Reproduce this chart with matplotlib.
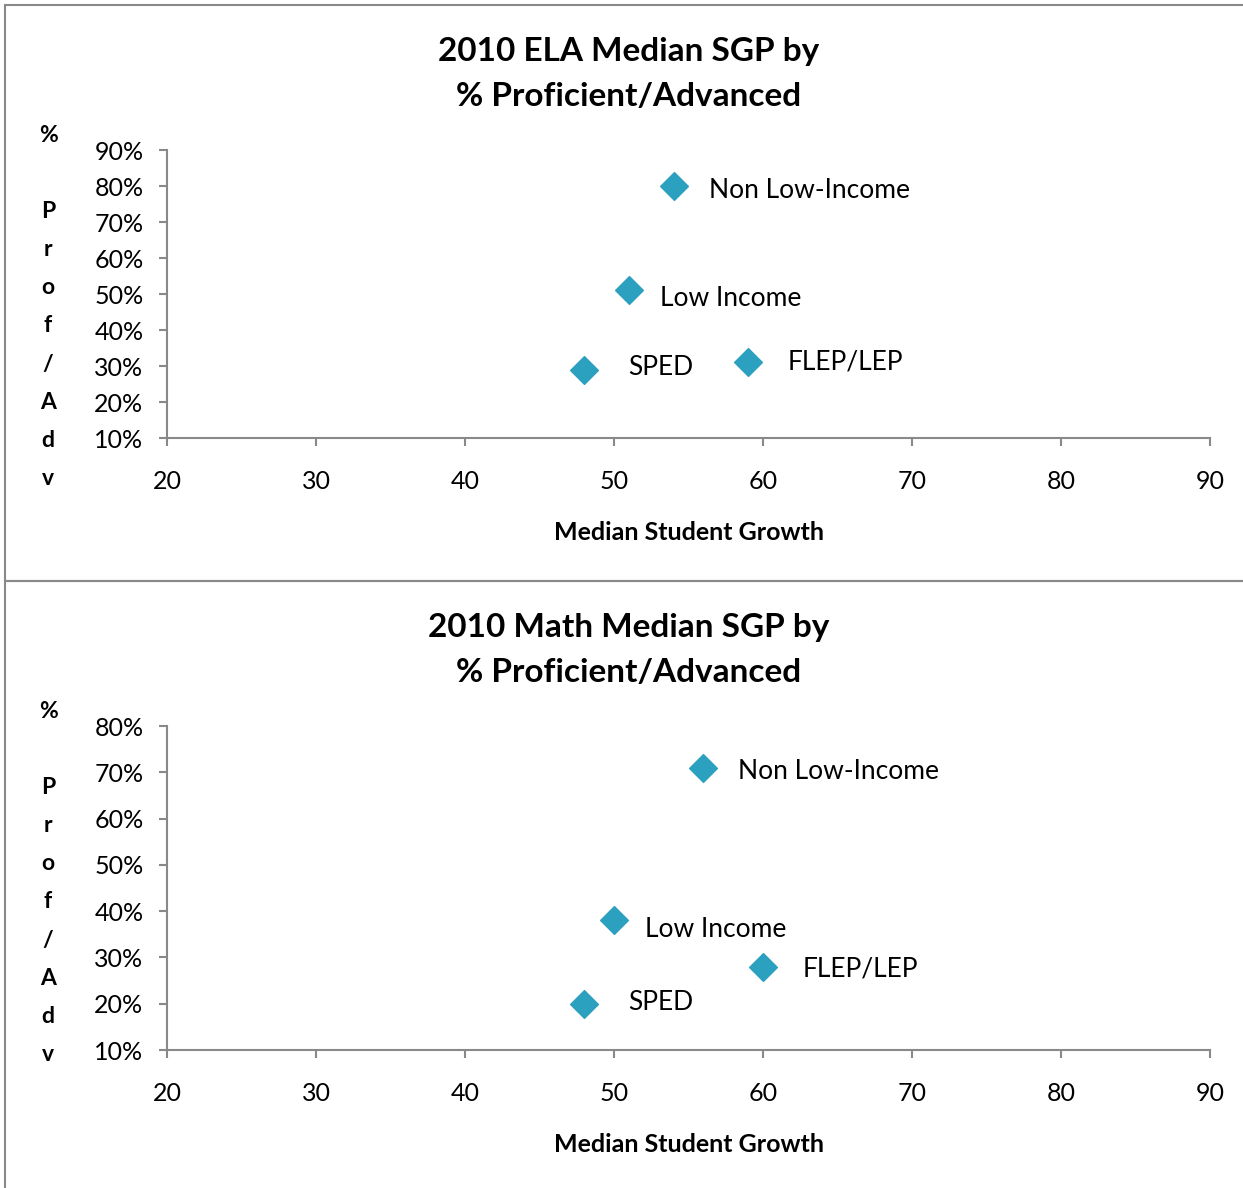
import matplotlib
matplotlib.use('Agg')
import matplotlib.pyplot as plt
from matplotlib.patches import Rectangle
from matplotlib.ticker import PercentFormatter

plt.rcParams['font.family'] = ['Lato', 'DejaVu Sans']

W, H = 1243, 1188

groups = ['Non Low-Income', 'Low Income', 'SPED', 'FLEP/LEP']

# 2010 ELA
ela_sgp = [54, 51, 48, 59]
ela_prof = [80, 51, 29, 31]

# 2010 Math
math_sgp = [56, 50, 48, 60]
math_prof = [71, 38, 20, 28]

x_ticks = [20, 30, 40, 50, 60, 70, 80, 90]
ela_yticks = [10, 20, 30, 40, 50, 60, 70, 80, 90]
math_yticks = [10, 20, 30, 40, 50, 60, 70, 80]

GRAY = '#898989'
TEAL = '#2ba1bf'


def px(x0, y0, x1, y1):
    # pixel box -> figure fraction [left, bottom, width, height]
    return [x0 / W, 1 - y1 / H, (x1 - x0) / W, (y1 - y0) / H]


def draw_panel(fig, box, panel_top, title, sgp, prof, yticks, offsets):
    ax = fig.add_axes(px(*box))
    ax.scatter(sgp, prof, marker='D', s=200, color=TEAL, zorder=3)

    for name, x, y, off in zip(groups, sgp, prof, offsets):
        ax.annotate(name, (x, y), xytext=off, textcoords='offset pixels',
                    ha='left', va='center', fontsize=19, color='black')

    ax.set_xlim(x_ticks[0], x_ticks[-1])
    ax.set_ylim(yticks[0], yticks[-1])
    ax.set_xticks(x_ticks)
    ax.set_yticks(yticks)
    ax.yaxis.set_major_formatter(PercentFormatter(decimals=0))

    for side in ['top', 'right']:
        ax.spines[side].set_visible(False)
    for side in ['left', 'bottom']:
        ax.spines[side].set_color(GRAY)
        ax.spines[side].set_linewidth(1.5)
    ax.tick_params(axis='both', colors=GRAY, labelcolor='black', labelsize=18,
                   length=6, width=1.5, direction='out')
    ax.tick_params(axis='x', pad=17)
    ax.tick_params(axis='y', pad=11)
    ax.patch.set_alpha(0)

    ax.set_xlabel('Median Student Growth', fontsize=18, fontweight='bold',
                  labelpad=20)

    # title
    fig.text(629 / W, 1 - (panel_top + 74) / H, title, ha='center', va='center',
             fontsize=24, fontweight='bold', linespacing=1.68)

    # stacked y label
    for i, ch in enumerate('% Prof/Adv'):
        fig.text(48 / W, 1 - (panel_top + 135 + i * 38.2) / H, ch,
                 ha='center', va='center', fontsize=16.5, fontweight='bold')
    return ax


fig = plt.figure(figsize=(W / 100, H / 100), dpi=100)

# chart borders
fig.patches.append(Rectangle((5 / W, 1 - 581 / H), 1.1, 576 / H,
                             transform=fig.transFigure, fill=False,
                             edgecolor=GRAY, linewidth=1.5))
fig.patches.append(Rectangle((5 / W, -0.1), 1.1, 0.1 + 1 - 581 / H,
                             transform=fig.transFigure, fill=False,
                             edgecolor=GRAY, linewidth=1.5))

draw_panel(fig, (167, 150, 1210, 438), 0,
           '2010 ELA Median SGP by\n% Proficient/Advanced',
           ela_sgp, ela_prof, ela_yticks,
           [(35, -4), (31, -8), (44, 2), (40, 0)])

draw_panel(fig, (167, 726, 1210, 1050), 576,
           '2010 Math Median SGP by\n% Proficient/Advanced',
           math_sgp, math_prof, math_yticks,
           [(35, -4), (31, -9), (44, 1), (40, -2)])

fig.savefig('out.png', dpi=100)
